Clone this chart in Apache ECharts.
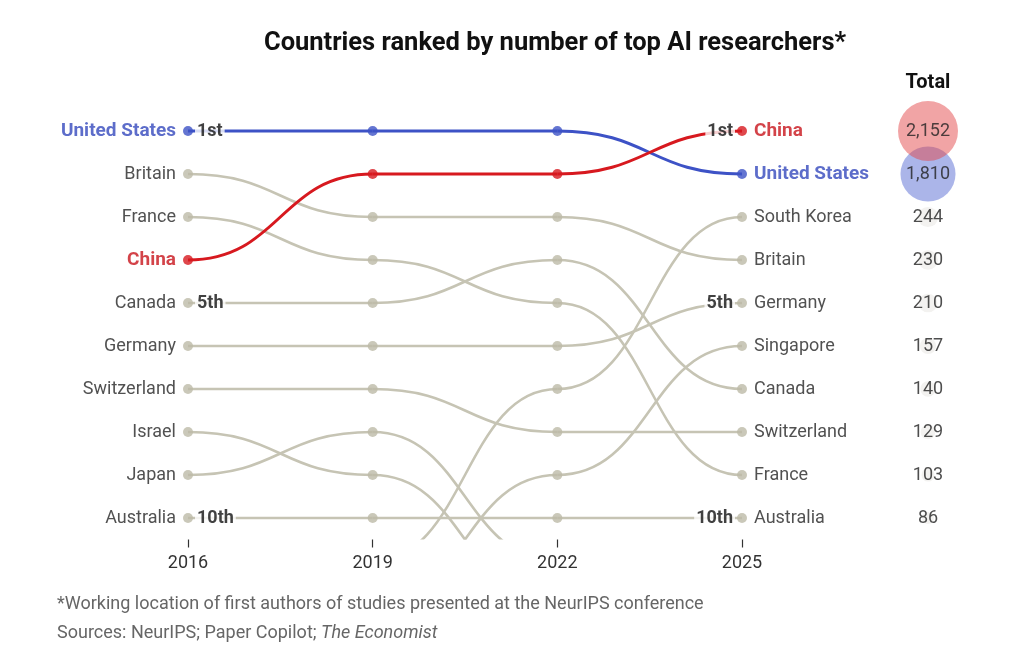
<!DOCTYPE html>
<html>
<head>
<meta charset="utf-8">
<title>Countries ranked by number of top AI researchers</title>
<script src="https://cdn.jsdelivr.net/npm/echarts@6/dist/echarts.min.js"></script>
<style>
  html, body { margin: 0; padding: 0; background: #fff; }
  #chart { width: 1024px; height: 659px; }
</style>
</head>
<body>
<div id="chart"></div>
<script>
const years = [2016, 2019, 2022, 2025];
// ranking per year, 1st place first. Places past 10th only where a line leaves/enters below the chart
const order2016 = ['United States', 'Britain', 'France', 'China', 'Canada', 'Germany', 'Switzerland', 'Israel', 'Japan', 'Australia'];
const order2019 = ['United States', 'China', 'Britain', 'France', 'Canada', 'Germany', 'Switzerland', 'Japan', 'Israel', 'Australia', 'South Korea', 'Singapore'];
const order2022 = ['United States', 'China', 'Britain', 'Canada', 'France', 'Germany', 'South Korea', 'Switzerland', 'Singapore', 'Australia', 'Japan', 'Israel'];
const order2025 = ['China', 'United States', 'South Korea', 'Britain', 'Germany', 'Singapore', 'Canada', 'Switzerland', 'France', 'Australia'];
const totals2025 = [2152, 1810, 244, 230, 210, 157, 140, 129, 103, 86];
const rankMarks = [1, 5, 10];
const rankMarkLabels = ['1st', '5th', '10th'];

const FONT = 'Roboto, "Noto Sans", sans-serif';
const lineColor = { 'United States': '#3d52c6', 'China': '#d7191f' };
const textColor = { 'United States': '#3549bd', 'China': '#c8141c' };
const bubbleColor = { 'United States': 'rgba(80,100,210,0.6)', 'China': 'rgba(226,70,72,0.62)' };
const grey = '#c6c4b4';
const dotGrey = '#bdbaa8';

const orders = [order2016, order2019, order2022, order2025];
const countries = [...new Set(orders.flat())];

function rankOf(name, yi) {
  const i = orders[yi].indexOf(name);
  return i < 0 ? null : i + 1;
}

// one custom series per country, each segment drawn as an S-curve
const lineSeries = countries.map(name => {
  const segs = [];
  for (let i = 0; i < years.length - 1; i++) {
    const a = rankOf(name, i);
    const b = rankOf(name, i + 1);
    if (a && b) segs.push([years[i], a, years[i + 1], b]);
  }
  const hl = !!lineColor[name];
  return {
    type: 'custom',
    name: name,
    clip: true,
    silent: true,
    z: hl ? 3 : 2,
    encode: { x: [0, 2], y: [1, 3] },
    data: segs,
    renderItem: (params, api) => {
      const p0 = api.coord([api.value(0), api.value(1)]);
      const p1 = api.coord([api.value(2), api.value(3)]);
      const mx = (p0[0] + p1[0]) / 2;
      return {
        type: 'bezierCurve',
        shape: { x1: p0[0], y1: p0[1], x2: p1[0], y2: p1[1], cpx1: mx, cpy1: p0[1], cpx2: mx, cpy2: p1[1] },
        style: { fill: null, stroke: hl ? lineColor[name] : grey, lineWidth: hl ? 3 : 2.6 }
      };
    }
  };
});

// dots + country names at both ends
const dotData = [];
countries.forEach(name => {
  years.forEach((yr, yi) => {
    const r = rankOf(name, yi);
    if (!r || r > 10) return;
    const item = { value: [yr, r], itemStyle: { color: lineColor[name] || dotGrey } };
    if (yi === 0 || yi === years.length - 1) {
      const hl = !!lineColor[name];
      item.label = {
        show: true,
        position: yi === 0 ? 'left' : 'right',
        distance: 7,
        formatter: name,
        color: textColor[name] || '#262626',
        fontWeight: hl ? 'bold' : 'normal',
        fontSize: hl ? 19 : 18
      };
    }
    dotData.push(item);
  });
});

const markData = [];
rankMarks.forEach((r, i) => {
  markData.push({ value: [years[0], r], label: { position: 'right', formatter: rankMarkLabels[i] } });
  markData.push({ value: [years[years.length - 1], r], label: { position: 'left', formatter: rankMarkLabels[i] } });
});

// bubbles for totals, drawn bottom-up so China sits on top
const totalData = order2025.map((name, i) => ({
  value: [0, i + 1, totals2025[i]],
  symbolSize: 60 * Math.sqrt(totals2025[i] / totals2025[0]),
  itemStyle: { color: bubbleColor[name] || 'rgba(185,183,172,0.22)' }
})).reverse();

const chart = echarts.init(document.getElementById('chart'));
chart.setOption({
  animation: false,
  backgroundColor: '#fff',
  textStyle: { fontFamily: FONT },
  grid: [
    { left: 188, right: 282, top: 109.5, bottom: 119.5 },
    { left: 898, width: 60, top: 109.5, bottom: 119.5 }
  ],
  xAxis: [
    {
      type: 'value', min: 2016, max: 2025, interval: 3,
      axisLine: { show: false },
      splitLine: { show: false },
      axisTick: { show: true, length: 8, lineStyle: { color: '#333', width: 1.2 } },
      axisLabel: { fontSize: 18, color: '#333', margin: 15, fontFamily: FONT, formatter: v => String(v) }
    },
    { gridIndex: 1, type: 'value', min: -1, max: 1, show: false }
  ],
  yAxis: [
    { type: 'value', inverse: true, min: 0.5, max: 10.5, show: false },
    { gridIndex: 1, type: 'value', inverse: true, min: 0.5, max: 10.5, show: false }
  ],
  graphic: [
    {
      type: 'text', x: 555, y: 44,
      style: {
        text: 'Countries ranked by number of top AI researchers*',
        fill: '#111', font: 'bold 25.5px ' + FONT,
        align: 'center', textAlign: 'center', verticalAlign: 'middle', textVerticalAlign: 'middle'
      }
    },
    {
      type: 'text', x: 928, y: 83,
      style: {
        text: 'Total', fill: '#111', font: 'bold 20px ' + FONT,
        align: 'center', textAlign: 'center', verticalAlign: 'middle', textVerticalAlign: 'middle'
      }
    },
    {
      type: 'text', x: 57, y: 604,
      style: {
        text: '*Working location of first authors of studies presented at the NeurIPS conference',
        fill: '#666', font: '18px ' + FONT, verticalAlign: 'middle', textVerticalAlign: 'middle'
      }
    },
    {
      type: 'text', x: 57, y: 633,
      style: {
        text: 'Sources: NeurIPS; Paper Copilot; {i|The Economist}',
        fill: '#666', font: '18px ' + FONT, verticalAlign: 'middle', textVerticalAlign: 'middle',
        rich: { i: { fontStyle: 'italic', fontSize: 18, fontFamily: FONT, fill: '#666', color: '#666' } }
      }
    }
  ],
  series: [
    ...lineSeries,
    {
      type: 'scatter',
      z: 4,
      silent: true,
      symbolSize: 10,
      data: dotData,
      label: { fontSize: 18, fontFamily: FONT }
    },
    {
      type: 'scatter',
      z: 5,
      silent: true,
      symbolSize: 10,
      itemStyle: { color: 'transparent' },
      data: markData,
      label: {
        show: true, distance: 2, fontSize: 18, fontWeight: 'bold', color: '#111',
        backgroundColor: '#fff', padding: [1, 2], fontFamily: FONT
      }
    },
    {
      type: 'scatter',
      xAxisIndex: 1, yAxisIndex: 1,
      silent: true,
      data: totalData,
      label: {
        show: true, position: 'inside', fontSize: 18, color: '#222', fontFamily: FONT,
        formatter: p => p.value[2].toLocaleString('en-US')
      }
    }
  ]
});
</script>
</body>
</html>
